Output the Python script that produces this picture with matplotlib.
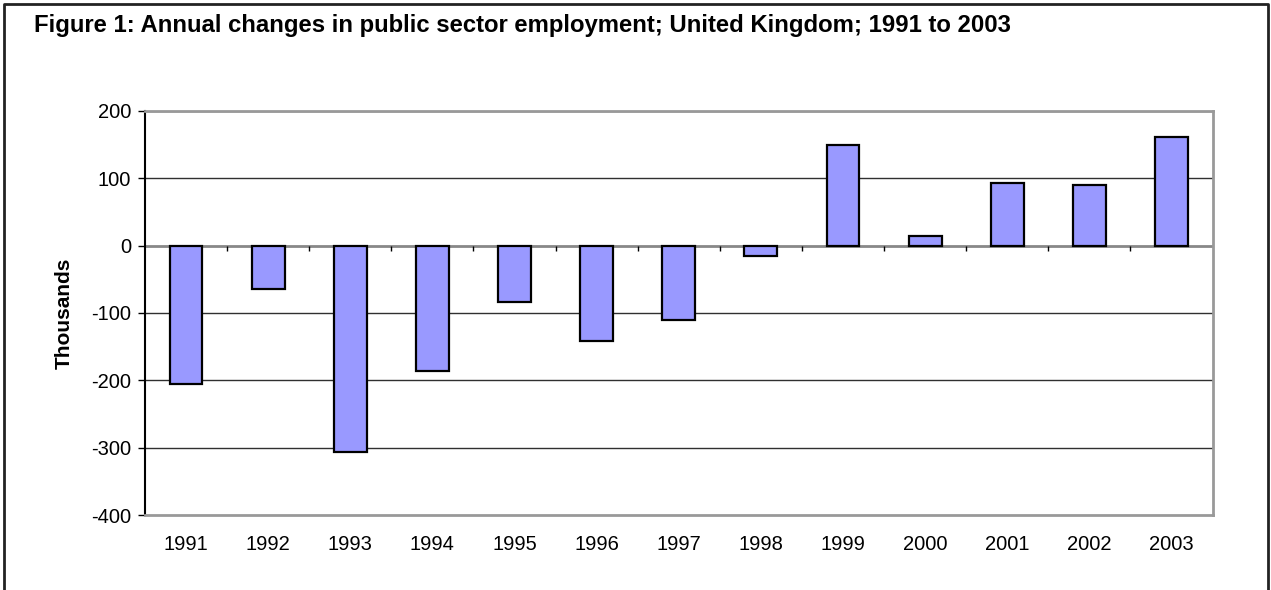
import matplotlib
matplotlib.use("Agg")
import matplotlib.pyplot as plt
from matplotlib.lines import Line2D
import numpy as np

plt.rcParams['font.family'] = ['Liberation Sans', 'DejaVu Sans']

years = ["1991", "1992", "1993", "1994", "1995", "1996", "1997",
         "1998", "1999", "2000", "2001", "2002", "2003"]
changes = [-205, -65, -306, -186, -83, -142, -110, -15, 150, 15, 93, 90, 162]
yticks = [-400, -300, -200, -100, 0, 100, 200]

fig = plt.figure(figsize=(12.71, 5.90), dpi=100)
ax = fig.add_axes([0.114, 0.127, 0.840, 0.685])

x = np.arange(len(years))
ax.bar(x, changes, width=0.4, color="#9999ff", edgecolor="black",
       linewidth=1.6, zorder=3)

ax.set_xlim(-0.5, len(years) - 0.5)
ax.set_ylim(-400, 200)
ax.set_yticks(yticks)
ax.set_yticklabels([str(v) for v in yticks], fontsize=14.5)
ax.set_xticks(x)
ax.set_xticklabels(years, fontsize=14.5)
ax.tick_params(axis="x", length=0, pad=14)
ax.tick_params(axis="y", length=5, width=1, direction="out", pad=5)

# horizontal gridlines; the zero line gets its own grey rule with ticks
for v in (-300, -200, -100, 100, 200):
    ax.axhline(v, color="#303030", linewidth=1, zorder=1)
ax.axhline(0, color="#888888", linewidth=2, zorder=2)
bounds = np.arange(len(years) + 1) - 0.5
ax.vlines(bounds[1:-1], -8, 0, color="black", linewidth=1, zorder=2)

ax.spines["left"].set_color("black")
ax.spines["left"].set_linewidth(1.5)
for side in ("top", "right", "bottom"):
    ax.spines[side].set_color("#999999")
    ax.spines[side].set_linewidth(2)

ax.set_ylabel("Thousands", fontsize=15, fontweight="bold", labelpad=12)

fig.text(0.027, 0.945, "Figure 1: Annual changes in public sector employment; United Kingdom; 1991 to 2003",
         fontsize=17.2, fontweight="bold", ha="left", va="baseline")

# outer frame, open at the bottom
fx = [4 / 1271, 4 / 1271, 1268 / 1271, 1268 / 1271]
fy = [0, 1 - 4 / 590, 1 - 4 / 590, 0]
fig.add_artist(Line2D(fx, fy, transform=fig.transFigure, color="#222222", linewidth=2))

fig.savefig("out.png", dpi=100)
